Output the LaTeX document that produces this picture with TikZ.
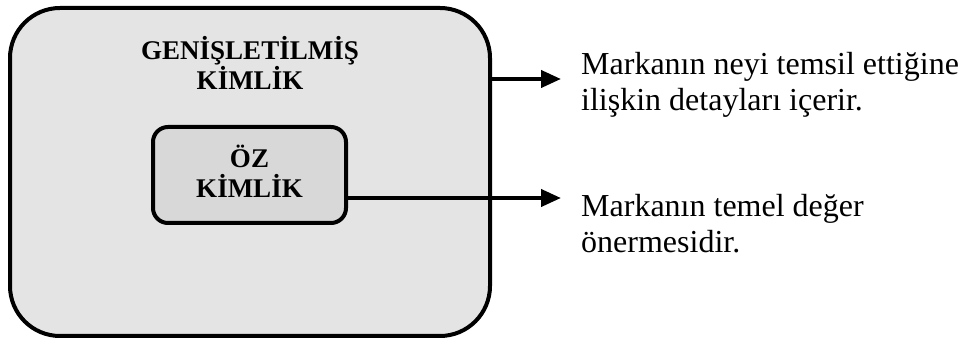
\documentclass[tikz,border=0pt]{standalone}
\usepackage{fontspec}
\setmainfont{Liberation Serif}
\usetikzlibrary{arrows.meta}
\definecolor{outerfill}{HTML}{E4E4E4}
\definecolor{innerfill}{HTML}{D8D8D8}
\begin{document}
\begin{tikzpicture}[x=1pt,y=-1pt,
  frame/.style={draw=black,line width=4pt,inner sep=0pt,outer sep=0pt},
  title/.style={font=\fontsize{27}{30.5}\selectfont\bfseries,align=center,inner sep=0pt},
  note/.style={font=\fontsize{32}{36.5}\selectfont,align=left,inner sep=0pt,anchor=base west},
  link/.style={line width=4pt,-{Triangle[length=20pt,width=17pt]}}]
\useasboundingbox (0,0) rectangle (964,344);
% outer and inner identity boxes
\node[frame,fill=outerfill,rounded corners=50pt,minimum width=480pt,minimum height=328pt] (outer) at (250,172) {};
\node[frame,fill=innerfill,rounded corners=15pt,minimum width=193pt,minimum height=96pt] (inner) at (249.5,175) {};
% box titles (anchored at the baseline of their last line)
\node[title,anchor=base] (outertitle) at (250,90) {GENİŞLETİLMİŞ\\KİMLİK};
\node[title,anchor=base] (innertitle) at (249.5,198) {ÖZ\\KİMLİK};
% descriptions
\node[note] (n1) at (581,111) {Markanın neyi temsil ettiğine\\ilişkin detayları içerir.};
\node[note] (n2) at (581,253) {Markanın temel değer\\önermesidir.};
% connectors
\coordinate (t1) at (561,79);
\coordinate (t2) at (561,198);
\draw[link] (outer.east |- t1) -- (t1);
\draw[link] (inner.east |- t2) -- (t2);
\end{tikzpicture}
\end{document}
